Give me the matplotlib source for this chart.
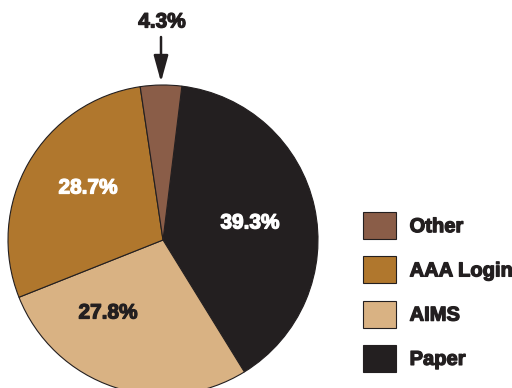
import matplotlib.pyplot as plt
import matplotlib.patheffects as pe
from matplotlib.patches import Patch

# share of requests by source
sources = ['Paper', 'AIMS', 'AAA Login', 'Other']
shares = [39.3, 27.8, 28.7, 4.3]
colors = ['#231f20', '#d9b283', '#b0772d', '#8a5d48']
label_colors = ['white', '#231f20', 'white', '#231f20']
legend_order = ['Other', 'AAA Login', 'AIMS', 'Paper']

plt.rcParams['font.family'] = ['Liberation Sans', 'DejaVu Sans']
plt.rcParams['font.weight'] = 'bold'


def heavy(color):
    # thin outline in the text colour to make the bold face look heavier
    return [pe.withStroke(linewidth=0.9, foreground=color)]


fig = plt.figure(figsize=(5.12, 3.88), dpi=100)
ax = fig.add_axes([0, 0, 1, 1])

# work in pixel-like units so the pie can run off the bottom edge
wedges, _ = ax.pie(shares, colors=colors, startangle=83, counterclock=False,
                   center=(163, 148), radius=155,
                   wedgeprops=dict(edgecolor='#231f20', linewidth=0.8))
ax.set_xlim(0, 512)
ax.set_ylim(0, 388)
ax.set_aspect('equal')
ax.set_axis_off()

label_pos = {'Paper': (250, 165), 'AIMS': (108, 75), 'AAA Login': (88, 200)}
for name, val, tc in zip(sources, shares, label_colors):
    if name in label_pos:
        x, y = label_pos[name]
        ax.text(x, y, f'{val}%', color=tc, fontsize=15, fontweight='bold',
                ha='center', va='center', path_effects=heavy(tc))

# small slice gets a callout from above
other = shares[sources.index('Other')]
ax.text(162, 366, f'{other}%', color='#231f20', fontsize=15, fontweight='bold',
        ha='center', va='center', path_effects=heavy('#231f20'))
ax.annotate('', xy=(161, 306), xytext=(161, 351),
            arrowprops=dict(arrowstyle='-|>,head_length=0.8,head_width=0.22',
                            color='#231f20', lw=1.8, mutation_scale=20,
                            shrinkA=0, shrinkB=0))

handles = [Patch(facecolor=colors[sources.index(n)], edgecolor='#231f20',
                 linewidth=0.8, label=n) for n in legend_order]
leg = ax.legend(handles=handles, loc='upper left', bbox_to_anchor=(0.693, 0.474),
                frameon=False, prop=dict(size=14.5, weight='bold'),
                handlelength=1.64, handleheight=1.68, handletextpad=0.68,
                labelspacing=0.86, borderaxespad=0)
for t in leg.get_texts():
    t.set_color('#231f20')
    t.set_path_effects(heavy('#231f20'))

fig.savefig('out.png', dpi=100)
